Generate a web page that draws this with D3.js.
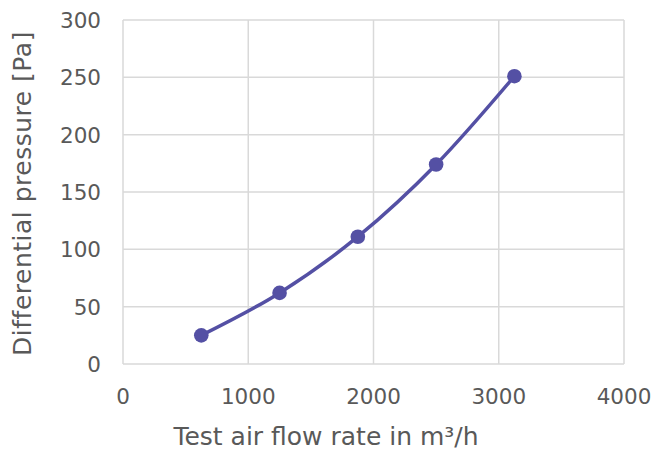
<!DOCTYPE html>
<html><head><meta charset="utf-8">
<script src="https://cdn.jsdelivr.net/npm/d3@7"></script>
<style>body{margin:0;background:#fff}svg{display:block}text{font-family:Verdana,"DejaVu Sans",sans-serif;fill:#595959}</style>
</head><body>
<svg id="c" width="654" height="450"></svg>
<script>
const flowRates = [625, 1250, 1875, 2500, 3125];
const pressures = [25, 62, 111, 174, 251];
const xTicks = [0, 1000, 2000, 3000, 4000];
const yTicks = [0, 50, 100, 150, 200, 250, 300];
const xTitle = "Test air flow rate in m³/h";
const yTitle = "Differential pressure [Pa]";

const svg = d3.select("#c");
const L = 123, R = 624, T = 20, B = 364;
const x = d3.scaleLinear().domain([0, 4000]).range([L, R]);
const y = d3.scaleLinear().domain([0, 300]).range([B, T]);

const g = svg.append("g");
g.selectAll(".vg").data(xTicks).enter().append("line")
  .attr("x1", d => x(d)).attr("x2", d => x(d)).attr("y1", T).attr("y2", B)
  .attr("stroke", "#d9d9d9").attr("stroke-width", 1.5);
g.selectAll(".hg").data(yTicks).enter().append("line")
  .attr("x1", L).attr("x2", R).attr("y1", d => y(d)).attr("y2", d => y(d))
  .attr("stroke", "#d9d9d9").attr("stroke-width", 1.5);

g.selectAll(".xl").data(xTicks).enter().append("text")
  .attr("x", d => x(d)).attr("y", 404).attr("text-anchor", "middle")
  .attr("font-size", 21.5).text(d => d);
g.selectAll(".yl").data(yTicks).enter().append("text")
  .attr("x", 101).attr("y", d => y(d) + 8).attr("text-anchor", "end")
  .attr("font-size", 21.5).text(d => d);

svg.append("text").attr("x", 326).attr("y", 445).attr("text-anchor", "middle")
  .attr("font-size", 25).text(xTitle);
svg.append("text").attr("transform", "translate(31,193.5) rotate(-90)").attr("text-anchor", "middle")
  .attr("font-size", 25).attr("letter-spacing", 0.5).text(yTitle);

const data = flowRates.map((f, i) => [f, pressures[i]]);
const line = d3.line().x(d => x(d[0])).y(d => y(d[1])).curve(d3.curveCardinal.tension(0));
svg.append("path").datum(data).attr("d", line).attr("fill", "none")
  .attr("stroke", "#5450a4").attr("stroke-width", 3.5);
svg.selectAll(".pt").data(data).enter().append("circle")
  .attr("cx", d => x(d[0])).attr("cy", d => y(d[1])).attr("r", 7.3)
  .attr("fill", "#5450a4");
</script>
</body></html>
